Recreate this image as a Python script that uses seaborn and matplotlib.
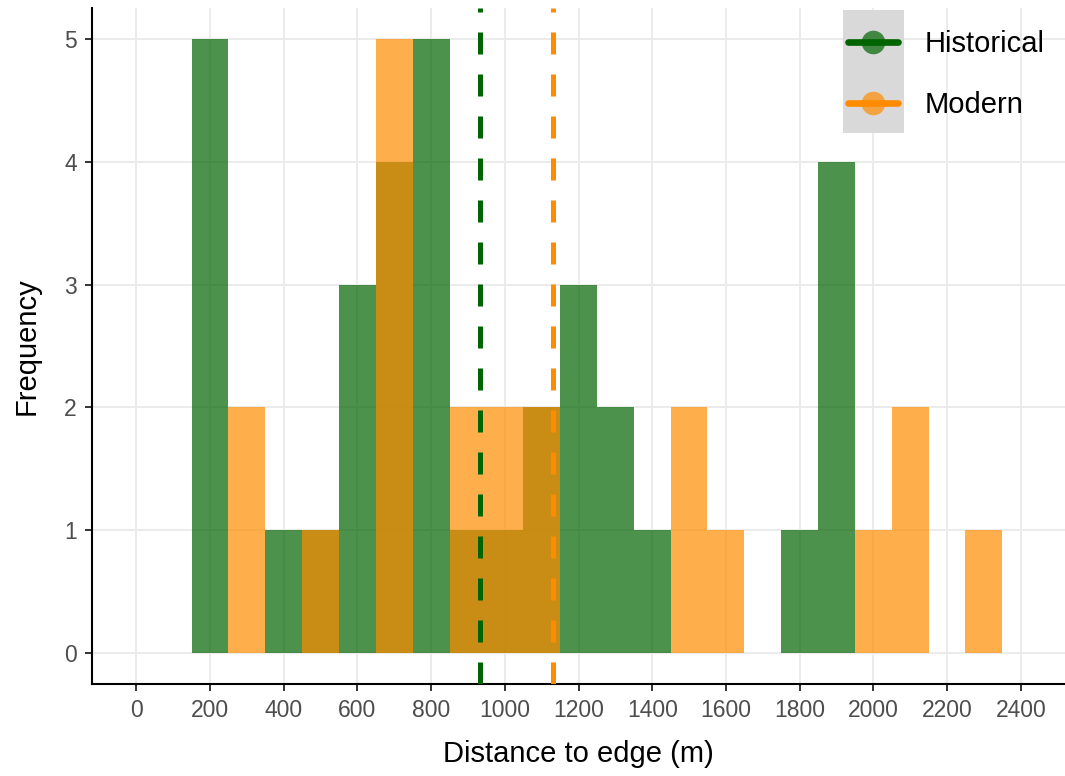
import numpy as np
import pandas as pd
import matplotlib
matplotlib.use("Agg")
import matplotlib.pyplot as plt
import seaborn as sns
from matplotlib.lines import Line2D
from matplotlib.legend_handler import HandlerTuple
from matplotlib.patches import Rectangle

# ---- data (bin centres, width 100 m) ----
bin_centers = [200, 300, 400, 500, 600, 700, 800, 900, 1000, 1100, 1200, 1300,
               1400, 1500, 1600, 1700, 1800, 1900, 2000, 2100, 2200, 2300]
historical_counts = [5, 0, 1, 1, 3, 4, 5, 1, 1, 2, 3, 2, 1, 0, 0, 0, 1, 4, 0, 0, 0, 0]
modern_counts = [0, 2, 0, 1, 0, 5, 0, 2, 2, 2, 0, 0, 0, 2, 1, 0, 0, 0, 1, 2, 0, 1]
historical_mean = 934
modern_mean = 1130
x_ticks = list(range(0, 2401, 200))
y_ticks = [0, 1, 2, 3, 4, 5]

hist_df = pd.DataFrame({"x": bin_centers, "w": historical_counts})
mod_df = pd.DataFrame({"x": bin_centers, "w": modern_counts})

sns.set_style("white")
plt.rcParams["font.family"] = ["Liberation Sans", "DejaVu Sans"]

GREEN = "#006400"
ORANGE = "#FF8C00"

fig = plt.figure(figsize=(10.65, 7.76), dpi=100)
ax = fig.add_axes([92 / 1065, 92 / 776, 973 / 1065, 676 / 776])

sns.histplot(data=hist_df, x="x", weights="w", binwidth=100, binrange=(150, 2350),
             color=GREEN, alpha=0.7, edgecolor="none", linewidth=0, ax=ax, zorder=2)
sns.histplot(data=mod_df, x="x", weights="w", binwidth=100, binrange=(150, 2350),
             color=ORANGE, alpha=0.7, edgecolor="none", linewidth=0, ax=ax, zorder=3)

ax.axvline(historical_mean, color=GREEN, lw=3.6, dashes=(4.4, 4.0), zorder=4)
ax.axvline(modern_mean, color=ORANGE, lw=3.6, dashes=(4.4, 4.0), zorder=4)

ax.set_xlim(-120, 2520)
ax.set_ylim(-0.25, 5.25)
ax.set_xticks(x_ticks)
ax.set_yticks(y_ticks)
ax.grid(True, color="#EBEBEB", lw=1.4, zorder=0)
ax.set_axisbelow(True)

for s in ["top", "right"]:
    ax.spines[s].set_visible(False)
for s in ["left", "bottom"]:
    ax.spines[s].set_color("black")
    ax.spines[s].set_linewidth(1.5)

ax.tick_params(axis="both", direction="out", length=5, width=1.4, color="#333333",
               labelsize=16.5, labelcolor="#4D4D4D", pad=6, left=True, bottom=True)
ax.set_xlabel("Distance to edge (m)", fontsize=21, color="black", labelpad=13)
ax.set_ylabel("Frequency", fontsize=21, color="black", labelpad=17)

# legend key background
ax.add_patch(Rectangle((0.772, 0.815), 0.063, 0.182, transform=ax.transAxes,
                       facecolor="#D9D9D9", edgecolor="none", zorder=5))

h_hist = (Line2D([], [], marker="o", ls="none", markersize=17, color=GREEN, alpha=0.7, markeredgewidth=0),
          Line2D([], [], color=GREEN, lw=4.8))
h_mod = (Line2D([], [], marker="o", ls="none", markersize=17, color=ORANGE, alpha=0.7, markeredgewidth=0),
         Line2D([], [], color=ORANGE, lw=4.8))
leg = ax.legend([h_hist, h_mod], ["Historical", "Modern"],
                handler_map={tuple: HandlerTuple(ndivide=1, pad=0)},
                loc="upper left", bbox_to_anchor=(0.7543, 1.0), frameon=False,
                fontsize=21, handlelength=1.71, handletextpad=0.92, labelspacing=1.15,
                borderaxespad=0, borderpad=0.75, labelcolor="black")
leg.set_zorder(6)

fig.savefig("out.png", dpi=100)
